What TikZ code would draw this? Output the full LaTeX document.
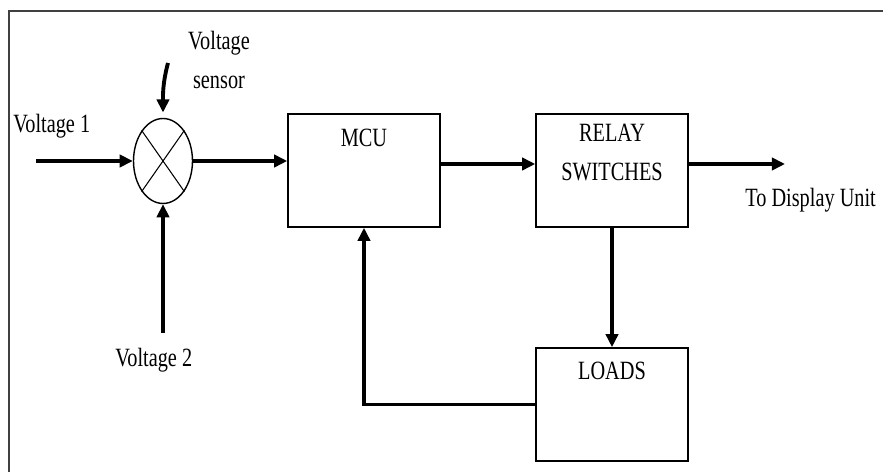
\documentclass[tikz,border=0pt]{standalone}
\usepackage{fontspec}
\setmainfont{Liberation Serif}[FakeStretch=0.77]
\usetikzlibrary{arrows.meta,positioning,shapes.geometric}
\begin{document}
\begin{tikzpicture}[x=0.02cm, y=-0.02cm, >={Triangle[length=7.5pt,width=7pt]},
  blk/.style={draw, line width=0.9pt, minimum width=3.04cm, minimum height=2.26cm},
  sig/.style={->, line width=2.2pt},
  txt/.style={inner sep=0pt, font=\fontsize{15}{22}\selectfont}]
  \useasboundingbox (0,0) rectangle (883,472);
  \draw[line width=1.2pt, black!75] (9,472) -- (9,11) -- (883,11);
  \node[ellipse, draw, line width=0.8pt, minimum width=1.18cm, minimum height=1.7cm, inner sep=0pt] (sum) at (163,161) {};
  \draw[line width=0.6pt] (sum.north west) -- (sum.south east) (sum.north east) -- (sum.south west);
  \node[blk] (mcu) at (364,170.5) {};
  \node[blk] (relay) at (612,170.5) {};
  \node[blk] (loads) at (612,404.5) {};
  \coordinate (v1) at (36,161);
  \coordinate (v2) at (163,333);
  \coordinate (vs) at (168,63);
  \coordinate (disp) at (785,164);
  \node[txt, anchor=base west] (v1txt) at (13,133) {Voltage 1};
  \node[txt, anchor=base west] (v2txt) at (115,367) {Voltage 2};
  \node[txt, align=center, anchor=north] (vstxt) at (219,31) {Voltage\\sensor};
  \node[txt, anchor=base west] (disptxt) at (745,207) {To Display Unit};
  \node[txt, below=0.3cm of mcu.north] (mcutxt) {MCU};
  \node[txt, align=center, below=0.22cm of relay.north] (relaytxt) {RELAY\\SWITCHES};
  \node[txt, below=0.28cm of loads.north] (loadstxt) {LOADS};
  \draw[sig] (v1) -- (sum);
  \draw[sig, shorten >=3pt] (vs) to[out=-105, in=90] (sum.north);
  \draw[sig] (v2) -- (sum);
  \draw[sig] (sum.east) -- (sum.east -| mcu.west);
  \draw[sig] (mcu.east |- disp) -- (relay.west |- disp);
  \draw[sig] (relay.east |- disp) -- (disp);
  \draw[sig] (relay) -- (loads);
  \draw[sig] (loads.west) -| (mcu.south);
\end{tikzpicture}
\end{document}
